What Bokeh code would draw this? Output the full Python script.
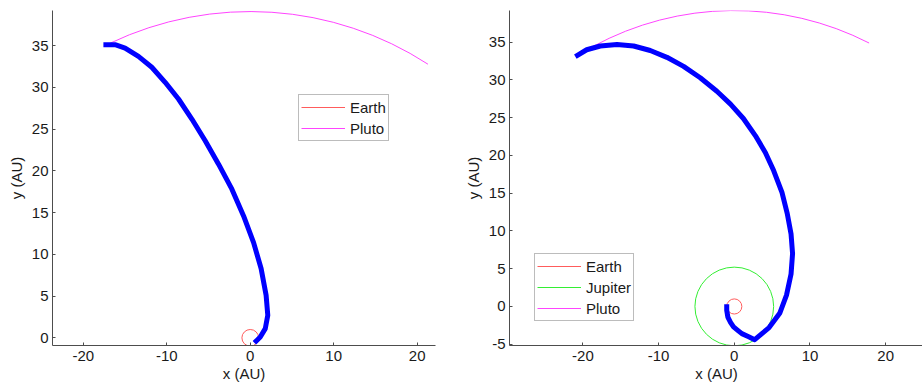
import math
from bokeh.plotting import figure
from bokeh.layouts import row
from bokeh.models import FixedTicker, Range1d, Legend, LegendItem, PrintfTickFormatter
from bokeh.embed import file_html
from bokeh.resources import INLINE

# ---------------- data ----------------
# Left panel: spacecraft trajectory (AU)
left_traj_x = [0.5, 1.2, 1.8, 2.1, 1.9, 1.3, 0.4, -0.8, -2.2, -3.8, -5.4, -7.0,
               -8.6, -10.2, -11.8, -13.4, -15.0, -16.2, -17.6]
left_traj_y = [-0.6, 0.1, 1.1, 2.7, 5.1, 8.3, 11.4, 14.6, 17.8, 20.8, 23.6, 26.2,
               28.6, 30.6, 32.4, 33.7, 34.7, 35.1, 35.1]

# Right panel: spacecraft trajectory with Jupiter fly-by (AU)
right_traj_x = [-1.0, -1.0, -0.85, -0.5, -0.1, 0.5, 1.0, 1.9, 2.7, 3.65, 4.6, 6.0,
                6.9, 7.5, 7.7, 7.5, 7.0, 6.3, 5.2, 4.1, 2.8, 1.2, -0.5, -2.3,
                -4.5, -6.7, -8.9, -11.1, -13.3, -15.5, -17.7, -19.5, -21.0]
right_traj_y = [0.3, -0.5, -1.4, -2.1, -2.7, -3.2, -3.6, -4.0, -4.4, -3.6, -2.8, -0.9,
                1.5, 4.3, 7.0, 9.6, 12.3, 15.1, 18.0, 20.4, 22.6, 24.9, 26.8, 28.5,
                30.3, 31.8, 33.0, 33.9, 34.5, 34.7, 34.5, 34.0, 33.1]

# Orbit radii (AU)
earth_radius = 1.0
jupiter_radius = 5.2
pluto_radius = 39.1

# Visible arc of Pluto's orbit (degrees, start -> end anticlockwise)
left_pluto_arc = [57.0, 115.4]
right_pluto_arc = [62.9, 118.5]

# Axes
x_ticks = [-20, -10, 0, 10, 20]
left_y_ticks = [0, 5, 10, 15, 20, 25, 30, 35]
right_y_ticks = [-5, 0, 5, 10, 15, 20, 25, 30, 35]
left_x_range = [-23.7, 22.2]
left_y_range = [-0.92, 39.2]
right_x_range = [-29.7, 25.0]
right_y_range = [-5.17, 39.2]

FONT = "Liberation Sans"
AXIS_COLOR = "#4d4d4d"
TEXT_COLOR = "#1a1a1a"
EARTH_COLOR = "#ff5c5c"
JUPITER_COLOR = "#33ee33"
PLUTO_COLOR = "#ff44ff"
TRAJ_COLOR = "#0000ff"


def make_fig(frame_w, b_left, b_right, xr, yr, yticks):
    p = figure(frame_width=frame_w, frame_height=335,
               x_range=Range1d(*xr), y_range=Range1d(*yr),
               output_backend="svg", toolbar_location=None,
               min_border_left=b_left, min_border_right=b_right,
               min_border_top=10, min_border_bottom=42)
    p.outline_line_color = None
    p.grid.visible = False
    p.background_fill_color = "white"
    p.border_fill_color = "white"
    for ax in (p.xaxis[0], p.yaxis[0]):
        ax.axis_line_color = AXIS_COLOR
        ax.major_tick_line_color = AXIS_COLOR
        ax.major_tick_in = 3
        ax.major_tick_out = 0
        ax.minor_tick_line_color = None
        ax.formatter = PrintfTickFormatter(format="%d")
        ax.major_label_text_font = FONT
        ax.major_label_text_font_size = "15px"
        ax.major_label_text_color = TEXT_COLOR
        ax.axis_label_text_font = FONT
        ax.axis_label_text_font_size = "15px"
        ax.axis_label_text_font_style = "normal"
        ax.axis_label_text_color = TEXT_COLOR
    p.xaxis[0].ticker = FixedTicker(ticks=x_ticks)
    p.yaxis[0].ticker = FixedTicker(ticks=yticks)
    p.xaxis[0].axis_label = "x (AU)"
    p.yaxis[0].axis_label = "y (AU)"
    p.xaxis[0].major_label_standoff = 5
    p.xaxis[0].axis_label_standoff = 1
    p.yaxis[0].major_label_standoff = 4
    p.yaxis[0].axis_label_standoff = 4
    return p


def orbit(p, radius, color, arc=None):
    if arc is None:
        a0, a1 = 0.0, 2 * math.pi
    else:
        a0, a1 = math.radians(arc[0]), math.radians(arc[1])
    return p.arc(x=[0], y=[0], radius=radius, start_angle=a0, end_angle=a1,
                 line_color=color, line_width=1)


def make_legend(items, loc):
    lg = Legend(items=items, location=loc)
    lg.label_text_font = FONT
    lg.label_text_font_size = "15px"
    lg.label_text_color = TEXT_COLOR
    lg.border_line_color = "#7a7a7a"
    lg.border_line_width = 1
    lg.background_fill_color = "white"
    lg.background_fill_alpha = 1
    lg.padding = 2
    lg.spacing = 1
    lg.glyph_width = 44
    lg.glyph_height = 20
    lg.label_height = 20
    lg.label_standoff = 5
    lg.margin = 0
    return lg


# ---------------- left panel ----------------
p1 = make_fig(383, 52, 26, left_x_range, left_y_range, left_y_ticks)
e1 = orbit(p1, earth_radius, EARTH_COLOR)
pl1 = orbit(p1, pluto_radius, PLUTO_COLOR, left_pluto_arc)
p1.line(left_traj_x, left_traj_y, line_color=TRAJ_COLOR, line_width=5,
        line_join="round")
p1.add_layout(make_legend([LegendItem(label="Earth", renderers=[e1]),
                           LegendItem(label="Pluto", renderers=[pl1])], (246, 204)))

# ---------------- right panel ----------------
p2 = make_fig(414, 47, 0, right_x_range, right_y_range, right_y_ticks)
e2 = orbit(p2, earth_radius, EARTH_COLOR)
j2 = orbit(p2, jupiter_radius, JUPITER_COLOR)
pl2 = orbit(p2, pluto_radius, PLUTO_COLOR, right_pluto_arc)
p2.line(right_traj_x, right_traj_y, line_color=TRAJ_COLOR, line_width=5,
        line_join="round")
p2.add_layout(make_legend([LegendItem(label="Earth", renderers=[e2]),
                           LegendItem(label="Jupiter", renderers=[j2]),
                           LegendItem(label="Pluto", renderers=[pl2])], (25, 24)))

layout = row(p1, p2, spacing=0)
open("out.html", "w").write(file_html(layout, INLINE))
